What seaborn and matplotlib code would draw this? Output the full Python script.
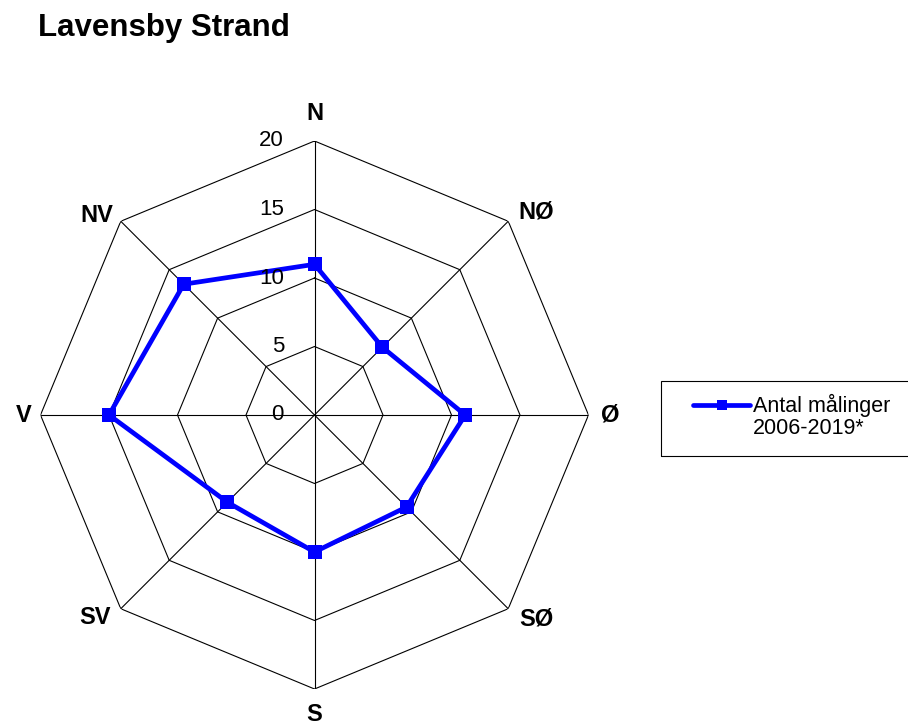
import numpy as np
import pandas as pd
import matplotlib.pyplot as plt
from matplotlib.lines import Line2D
from matplotlib.patches import Rectangle
import seaborn as sns

directions = ["N", "NØ", "Ø", "SØ", "S", "SV", "V", "NV"]
counts = [11, 7, 11, 9.5, 10, 9, 15, 13.5]
rings = [0, 5, 10, 15, 20]
series_label = ["Antal målinger", "2006-2019*"]

sns.set_style("white")
plt.rcParams["font.family"] = ["Liberation Sans", "DejaVu Sans"]
plt.rcParams["text.color"] = "black"

angles = np.deg2rad(np.arange(0, 360, 360 / len(directions)))
df = pd.DataFrame({"theta": np.append(angles, angles[0]),
                   "value": counts + counts[:1]})

fig = plt.figure(figsize=(9.08, 7.25), dpi=100)
ax = fig.add_axes([40.5 / 908, 36 / 725, 548 / 908, 548 / 725], projection="polar")
ax.set_theta_zero_location("N")
ax.set_theta_direction(-1)
ax.grid(False)
ax.spines["polar"].set_visible(False)
ax.patch.set_alpha(0)

# octagon grid + spokes
closed = np.append(angles, angles[0])
for r in rings[1:]:
    ax.plot(closed, [r] * len(closed), color="black", lw=0.8, zorder=1)
for a in angles:
    ax.plot([a, a], [0, rings[-1]], color="black", lw=0.8, zorder=1)

sns.lineplot(data=df, x="theta", y="value", sort=False, estimator=None, ax=ax,
             color="#0000ff", lw=3.4, marker="s", markersize=10.5,
             markeredgecolor="#0000ff", markeredgewidth=0,
             zorder=3, legend=False)

ax.set_ylim(0, 20)
ax.set_xticks([])
ax.set_yticks([])
ax.set_xlabel("")
ax.set_ylabel("")

# ring value labels along the N spoke
for r in rings:
    ax.annotate(str(r), xy=(0, r), xytext=(-22, 0), textcoords="offset points",
                ha="right", va="center", fontsize=16, annotation_clip=False)

# direction labels, offset (points) from the outer ring corner
label_offset = {"N": (0, 20), "NØ": (20, 6.5), "Ø": (16, 0), "SØ": (20, -7.5),
                "S": (0, -18.5), "SV": (-18.5, -6), "V": (-12, 0), "NV": (-17, 4.5)}
for a, d in zip(angles, directions):
    ax.annotate(d, xy=(a, rings[-1]), xytext=label_offset[d], textcoords="offset points",
                ha="center", va="center", fontsize=17, fontweight="bold",
                annotation_clip=False)

line = ax.get_lines()[-1]
blank = Line2D([], [], color="none")
ax.legend([line, blank], series_label, loc="upper left",
          bbox_to_anchor=(693 / 908, 1 - 394 / 725), bbox_transform=fig.transFigure,
          frameon=False, borderpad=0, borderaxespad=0, fontsize=15.5,
          handlelength=2.65, handletextpad=0.15, markerscale=0.7, labelspacing=0.05)
fig.patches.append(Rectangle((661 / 908, 1 - 456 / 725), 260 / 908, 75 / 725,
                             transform=fig.transFigure, fill=False,
                             edgecolor="black", lw=0.8))

fig.text(38 / 908, 1 - 36 / 725, "Lavensby Strand", fontsize=22.5,
         fontweight="bold", ha="left", va="baseline")

fig.savefig("out.png", dpi=100)
